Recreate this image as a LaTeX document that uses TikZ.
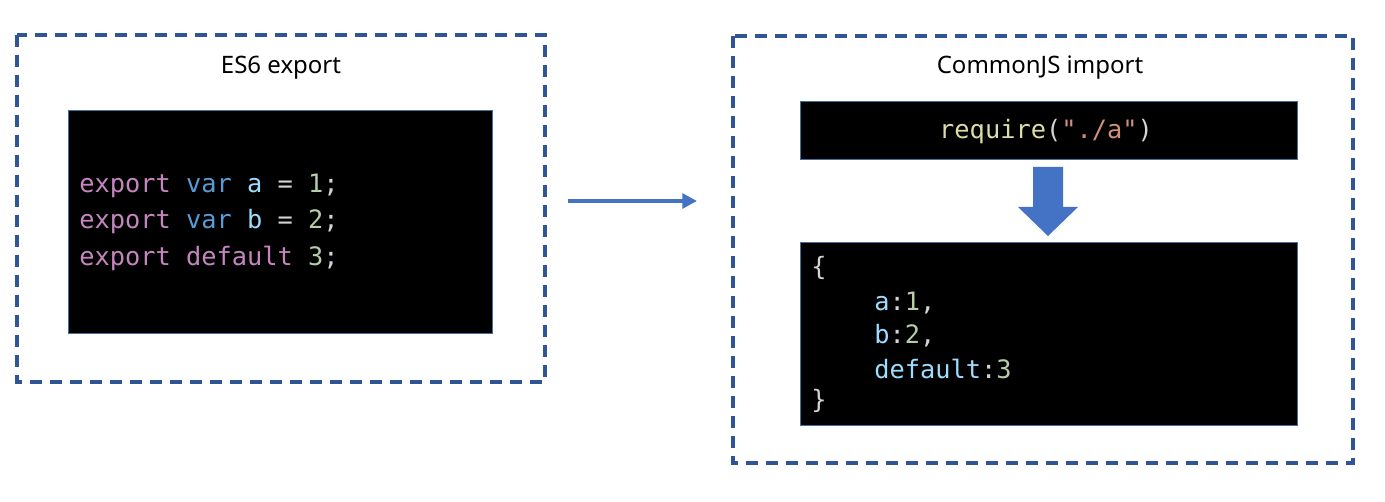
\documentclass[tikz,border=0pt]{standalone}
\usepackage{fontspec}
\setmainfont{Noto Sans}
\newfontfamily\codefont{DejaVu Sans Mono}
\usetikzlibrary{arrows.meta}
\definecolor{frameblue}{HTML}{2F5597}
\definecolor{arrowblue}{HTML}{4472C4}
\definecolor{edgeblue}{HTML}{41719C}
\definecolor{kwpurple}{HTML}{C586C0}
\definecolor{kwblue}{HTML}{569CD6}
\definecolor{idblue}{HTML}{9CDCFE}
\definecolor{numgreen}{HTML}{B5CEA8}
\definecolor{plain}{HTML}{D4D4D4}
\definecolor{fnyellow}{HTML}{DCDCAA}
\definecolor{strorange}{HTML}{CE9178}
\begin{document}
\begin{tikzpicture}[x=0.75pt,y=-0.75pt,
  frame/.style={draw=frameblue,line width=2.3pt,dash pattern=on 9pt off 6pt,inner sep=0pt},
  codebox/.style={fill=black,draw=edgeblue,line width=0.6pt,inner sep=0pt},
  title/.style={font=\fontsize{18}{22}\selectfont,text=black},
  codeline/.style={anchor=west,inner sep=0pt,font=\codefont\fontsize{19}{23}\selectfont,text=plain}]
\useasboundingbox (0,0) rectangle (1385,502);
\fill[white] (0,0) rectangle (1385,502);

% ES6 side
\draw[frame] (17,35) rectangle (545,382);
\node[title] (es6) at (281,68) {ES6 export};
\draw[codebox] (68,110) rectangle (492,333);
\node[codeline] (l1) at (79,186) {\textcolor{kwpurple}{export} \textcolor{kwblue}{var} \textcolor{idblue}{a} = \textcolor{numgreen}{1};};
\node[codeline] (l2) at (79,222) {\textcolor{kwpurple}{export} \textcolor{kwblue}{var} \textcolor{idblue}{b} = \textcolor{numgreen}{2};};
\node[codeline] (l3) at (79,258) {\textcolor{kwpurple}{export default} \textcolor{numgreen}{3};};

% CommonJS side
\draw[frame] (733,36) rectangle (1353,463);
\node[title] (cjs) at (1040,68) {CommonJS import};
\draw[codebox] (800,101) rectangle (1297,159);
\node[codeline,anchor=center] (req) at (1046,132) {\textcolor{fnyellow}{require}(\textcolor{strorange}{"./a"})};
\draw[codebox] (800,242) rectangle (1297,425);
\node[codeline] (o1) at (811,268) {\{};
\node[codeline] (o2) at (874,303) {\textcolor{idblue}{a}:\textcolor{numgreen}{1},};
\node[codeline] (o3) at (874,336) {\textcolor{idblue}{b}:\textcolor{numgreen}{2},};
\node[codeline] (o4) at (874,369) {\textcolor{idblue}{default}:\textcolor{numgreen}{3}};
\node[codeline] (o5) at (811,401) {\}};

% block arrow between the two CommonJS boxes
\fill[arrowblue] (1033,167) -- (1063,167) -- (1063,207) -- (1078,207)
  -- (1048,236) -- (1018,207) -- (1033,207) -- cycle;

% arrow from export to import
\coordinate (from) at (568,201);
\coordinate (to) at (697,201);
\draw[arrowblue,line width=3.5pt,-{Triangle[length=11pt,width=11pt]}] (from) -- (to);
\end{tikzpicture}
\end{document}
